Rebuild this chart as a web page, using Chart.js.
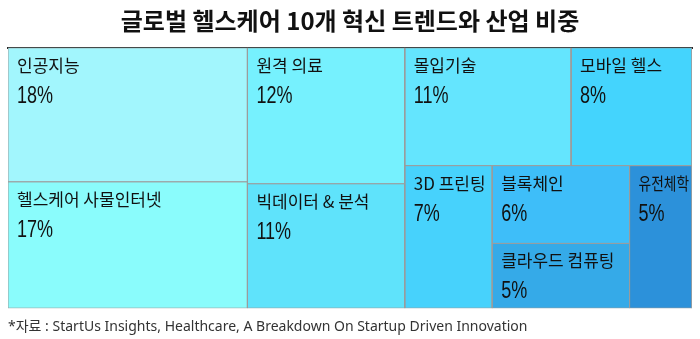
<!DOCTYPE html>
<html lang="ko">
<head>
  <meta charset="UTF-8" />
  <title>글로벌 헬스케어 10개 혁신 트렌드와 산업 비중</title>
  <script src="https://cdn.jsdelivr.net/npm/chart.js"></script>
  <style>
    body { margin: 0; background: #ffffff; }
    canvas { display: block; }
  </style>
</head>
<body>
  <canvas id="treemap" width="700" height="339"></canvas>

  <script>
    // 데이터
    const trends = ["인공지능", "헬스케어 사물인터넷", "원격 의료", "빅데이터 & 분석", "몰입기술",
                    "모바일 헬스", "3D 프린팅", "블록체인", "클라우드 컴퓨팅", "유전체학"];
    const shares = [18, 17, 12, 11, 11, 8, 7, 6, 5, 5];
    const tileColors = ["#a2f6fd", "#8afcfc", "#76f1fe", "#5fe3fb", "#64e5fe",
                        "#44d4fd", "#47d2fc", "#3ebef9", "#35aae8", "#2c91da"];

    // 배치 구조: 'h' = 가로로 나눔, 'v' = 세로로 쌓음 (숫자는 항목 번호)
    const layoutTree = ["h", ["v", 0, 1], ["v", 2, 3],
                        ["v", ["h", 4, 5], ["h", 6, ["v", 7, 8], 9]]];

    function weight(node) {
      if (typeof node === "number") return shares[node];
      return node.slice(1).reduce((s, c) => s + weight(c), 0);
    }

    // x: 0..100 (왼→오), y: 100..0 (위→아래)
    const rects = [];
    function place(node, x0, y0, x1, y1) {
      if (typeof node === "number") {
        rects[node] = { x0, y0, x1, y1 };
        return;
      }
      const kids = node.slice(1);
      const total = weight(node);
      let pos = 0;
      kids.forEach(k => {
        const f0 = pos / total;
        pos += weight(k);
        const f1 = pos / total;
        if (node[0] === "h") {
          place(k, x0 + (x1 - x0) * f0, y0, x0 + (x1 - x0) * f1, y1);
        } else {
          place(k, x0, y0 + (y1 - y0) * f0, x1, y0 + (y1 - y0) * f1);
        }
      });
    }
    place(layoutTree, 0, 100, 100, 0);

    const datasets = trends.map((name, i) => {
      const r = rects[i];
      return {
        label: name,
        data: [
          { x: r.x0, y: r.y0 }, { x: r.x1, y: r.y0 },
          { x: r.x1, y: r.y1 }, { x: r.x0, y: r.y1 }, { x: r.x0, y: r.y0 }
        ],
        showLine: true,
        fill: "shape",
        tension: 0,
        backgroundColor: tileColors[i],
        borderColor: "#9c9c9c",
        borderWidth: 1,
        pointRadius: 0
      };
    });

    const tileLabels = {
      id: "tileLabels",
      afterDatasetsDraw(chart) {
        const { ctx, scales: { x, y } } = chart;
        ctx.save();
        ctx.fillStyle = "#111111";
        ctx.textAlign = "left";
        ctx.textBaseline = "alphabetic";
        trends.forEach((name, i) => {
          const left = x.getPixelForValue(rects[i].x0);
          const right = x.getPixelForValue(rects[i].x1);
          const top = y.getPixelForValue(rects[i].y0);
          const room = right - left - 12;

          // 이름: 칸보다 넓으면 가로로 눌러서 맞춤
          ctx.font = "17px 'Noto Sans CJK KR', 'Noto Sans', sans-serif";
          const w = ctx.measureText(name).width;
          ctx.save();
          ctx.translate(left + 9, top + 24);
          if (w > room) ctx.scale(room / w, 1);
          ctx.fillText(name, 0, 0);
          ctx.restore();

          // 좁은 숫자 글꼴 흉내
          ctx.save();
          ctx.translate(left + 9, top + 55);
          ctx.scale(0.75, 1);
          ctx.font = "24px 'Liberation Sans', Arial, sans-serif";
          ctx.fillText(shares[i] + "%", 0, 0);
          ctx.restore();
        });
        ctx.restore();
      }
    };

    new Chart(document.getElementById("treemap"), {
      type: "scatter",
      data: { datasets },
      plugins: [tileLabels],
      options: {
        responsive: false,
        animation: false,
        events: [],
        layout: { padding: { left: 8, right: 8, top: 0, bottom: 4 } },
        plugins: {
          legend: { display: false },
          tooltip: { enabled: false },
          title: {
            display: true,
            text: "글로벌 헬스케어 10개 혁신 트렌드와 산업 비중",
            color: "#111111",
            font: { family: "'Noto Sans CJK KR', sans-serif", size: 24, weight: "bold" },
            padding: { top: 6, bottom: 13 }
          },
          subtitle: {
            display: true,
            position: "bottom",
            align: "start",
            text: "*자료 : StartUs Insights, Healthcare, A Breakdown On Startup Driven Innovation",
            color: "#333333",
            font: { family: "'Noto Sans', 'Noto Sans CJK KR', sans-serif", size: 14 },
            padding: { top: 10, bottom: 0 }
          }
        },
        scales: {
          x: {
            type: "linear",
            position: "top",
            min: 0,
            max: 100,
            z: 1,
            grid: { display: false, drawTicks: false },
            ticks: { display: false },
            border: { display: true, color: "#2b2b2b", width: 2 }
          },
          y: {
            type: "linear",
            display: false,
            min: 0,
            max: 100
          }
        }
      }
    });
  </script>
</body>
</html>
